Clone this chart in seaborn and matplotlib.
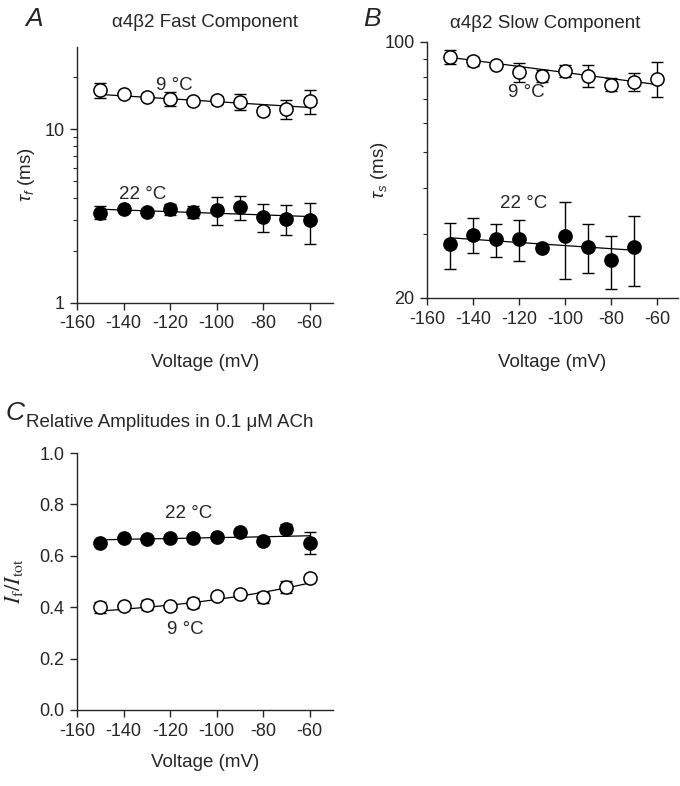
import numpy as np
import pandas as pd
import matplotlib
matplotlib.use("Agg")
import matplotlib.pyplot as plt
import matplotlib.ticker as mticker
import seaborn as sns

# --- data ---
voltage = [-150, -140, -130, -120, -110, -100, -90, -80, -70, -60]

# A: fast component tau (ms)
fast_9 = [16.7, 15.9, 15.3, 14.9, 14.4, 14.7, 14.3, 12.7, 13.1, 14.5]
fast_9_err = [1.6, 0.5, 0.5, 1.35, 0.5, 0.8, 1.5, 0.65, 1.65, 2.3]
fast_22 = [3.31, 3.46, 3.33, 3.46, 3.34, 3.43, 3.55, 3.14, 3.05, 2.98]
fast_22_err = [0.29, 0.12, 0.14, 0.25, 0.26, 0.64, 0.55, 0.57, 0.6, 0.8]
fast_fit_x = [-150, -60]
fast_fit_9 = [15.8, 13.3]
fast_fit_22 = [3.46, 3.14]

# B: slow component tau (ms)
slow_9 = [91.0, 88.6, 86.5, 82.8, 80.9, 83.5, 80.9, 76.5, 77.8, 79.4]
slow_9_err = [3.8, 2.5, 1.0, 4.8, 3.0, 3.0, 5.7, 3.0, 4.5, 8.8]
slow_22_v = [-150, -140, -130, -120, -110, -100, -90, -80, -70]
slow_22 = [28.0, 29.8, 28.9, 28.9, 27.4, 29.5, 27.6, 25.4, 27.5]
slow_22_err = [4.0, 3.3, 3.0, 3.7, 0.6, 7.0, 4.2, 4.2, 6.0]
slow_fit_9_x = [-150, -60]
slow_fit_9 = [90.8, 76.5]
slow_fit_22_x = [-150, -70]
slow_fit_22 = [29.2, 27.0]

# C: relative amplitudes If/Itot
amp_22 = [0.649, 0.671, 0.666, 0.671, 0.669, 0.675, 0.691, 0.658, 0.705, 0.649]
amp_22_err = [0.01, 0.01, 0.01, 0.01, 0.01, 0.01, 0.01, 0.01, 0.018, 0.043]
amp_9 = [0.399, 0.403, 0.409, 0.406, 0.416, 0.442, 0.451, 0.438, 0.478, 0.513]
amp_9_err = [0.022, 0.01, 0.02, 0.01, 0.02, 0.01, 0.01, 0.022, 0.023, 0.01]
amp_fit_22 = [0.662, 0.664, 0.666, 0.667, 0.669, 0.671, 0.672, 0.674, 0.676, 0.678]
amp_fit_9 = [0.385, 0.392, 0.400, 0.408, 0.418, 0.430, 0.443, 0.458, 0.475, 0.494]

sns.set_style("ticks")
plt.rcParams['font.family'] = ['Liberation Sans', 'DejaVu Sans']
plt.rcParams['mathtext.fontset'] = 'custom'
plt.rcParams['mathtext.rm'] = 'Liberation Sans'
plt.rcParams['mathtext.it'] = 'Liberation Sans:italic'
plt.rcParams['axes.linewidth'] = 1.0
plt.rcParams['axes.unicode_minus'] = False

FS = 13.5
TICK_FS = 13

fig = plt.figure(figsize=(6.8, 7.86), dpi=100)
W, H = 680.0, 786.0


def add_axes(left, top, right, bottom):
    return fig.add_axes([left / W, 1 - bottom / H, (right - left) / W, (bottom - top) / H])


axA = add_axes(77, 47, 333, 303)
axB = add_axes(427, 42, 678, 298)
axC = add_axes(77, 453, 333, 710)


def draw_series(ax, x, y, err, filled):
    ax.errorbar(x, y, yerr=err, fmt='none', ecolor='black', elinewidth=1.0,
                capsize=4.6, capthick=1.0, zorder=2)
    df = pd.DataFrame({'v': x, 'y': y})
    sns.scatterplot(data=df, x='v', y='y', ax=ax, s=90,
                    color='black' if filled else 'white',
                    edgecolor='black', linewidth=1.1, zorder=4, legend=False)


def draw_fit(ax, x, y):
    df = pd.DataFrame({'v': x, 'y': y})
    sns.lineplot(data=df, x='v', y='y', ax=ax, color='black', lw=0.9,
                 zorder=3, legend=False)


def style(ax, xmax):
    sns.despine(ax=ax)
    ax.set_xlim(-160, xmax)
    ax.set_xticks([-160, -140, -120, -100, -80, -60])
    ax.tick_params(axis='both', which='major', length=5, width=1.0,
                   labelsize=TICK_FS, direction='out', pad=4)
    ax.tick_params(axis='both', which='minor', length=3, width=0.8)
    ax.set_xlabel('Voltage (mV)', fontsize=FS)
    ax.set_ylabel('')


# Panel A
draw_fit(axA, fast_fit_x, fast_fit_9)
draw_fit(axA, fast_fit_x, fast_fit_22)
draw_series(axA, voltage, fast_9, fast_9_err, False)
draw_series(axA, voltage, fast_22, fast_22_err, True)
axA.set_yscale('log')
style(axA, -50)
axA.set_ylim(1, 29.6)
axA.yaxis.set_major_locator(mticker.FixedLocator([1, 10]))
axA.yaxis.set_major_formatter(mticker.FixedFormatter(['1', '10']))
axA.yaxis.set_minor_locator(mticker.FixedLocator([2, 3, 4, 5, 6, 7, 8, 9, 20]))
axA.yaxis.set_minor_formatter(mticker.NullFormatter())
axA.set_ylabel(r'$\tau_f$ (ms)', fontsize=FS)
axA.yaxis.set_label_coords(-0.155, 0.5)
axA.xaxis.set_label_coords(0.5, -0.2)
axA.text(0.5, 1.094, 'α4β2 Fast Component', transform=axA.transAxes,
         ha='center', va='center', fontsize=FS)
axA.text(-118, 17.9, '9 °C', ha='center', va='center', fontsize=FS)
axA.text(-132, 4.18, '22 °C', ha='center', va='center', fontsize=FS)

# Panel B
draw_fit(axB, slow_fit_9_x, slow_fit_9)
draw_fit(axB, slow_fit_22_x, slow_fit_22)
draw_series(axB, voltage, slow_9, slow_9_err, False)
draw_series(axB, slow_22_v, slow_22, slow_22_err, True)
axB.set_yscale('log')
style(axB, -51)
axB.set_ylim(20, 100)
axB.yaxis.set_major_locator(mticker.FixedLocator([20, 100]))
axB.yaxis.set_major_formatter(mticker.FixedFormatter(['20', '100']))
axB.yaxis.set_minor_locator(mticker.FixedLocator([30, 40, 50, 60, 70, 80, 90]))
axB.yaxis.set_minor_formatter(mticker.NullFormatter())
axB.set_ylabel(r'$\tau_s$ (ms)', fontsize=FS)
axB.yaxis.set_label_coords(-0.147, 0.5)
axB.xaxis.set_label_coords(0.5, -0.22)
axB.text(0.47, 1.074, 'α4β2 Slow Component', transform=axB.transAxes,
         ha='center', va='center', fontsize=FS)
axB.text(-117, 72.6, '9 °C', ha='center', va='center', fontsize=FS)
axB.text(-118, 36.3, '22 °C', ha='center', va='center', fontsize=FS)

# Panel C
draw_fit(axC, voltage, amp_fit_22)
draw_fit(axC, voltage, amp_fit_9)
draw_series(axC, voltage, amp_22, amp_22_err, True)
draw_series(axC, voltage, amp_9, amp_9_err, False)
style(axC, -50)
axC.set_ylim(0, 1.0)
axC.set_yticks([0.0, 0.2, 0.4, 0.6, 0.8, 1.0])
axC.yaxis.set_major_formatter(mticker.FormatStrFormatter('%.1f'))
axC.set_ylabel(r'$I_\mathrm{f}/I_\mathrm{tot}$', fontsize=16, math_fontfamily='stix')
axC.yaxis.set_label_coords(-0.205, 0.5)
axC.xaxis.set_label_coords(0.5, -0.17)
axC.text(-0.2, 1.12, 'Relative Amplitudes in 0.1 μM ACh', transform=axC.transAxes,
         ha='left', va='center', fontsize=FS)
axC.text(-112, 0.766, '22 °C', ha='center', va='center', fontsize=FS)
axC.text(-113.5, 0.314, '9 °C', ha='center', va='center', fontsize=FS)

# panel letters
for letter, (px, py) in {'A': (34, 19), 'B': (372, 19), 'C': (15, 413)}.items():
    fig.text(px / W, 1 - py / H, letter, fontsize=19, style='italic',
             ha='center', va='center')

fig.savefig('out.png', dpi=100)
